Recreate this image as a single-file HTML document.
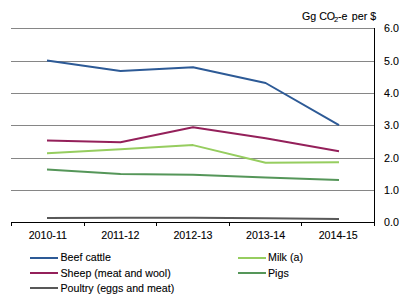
<!DOCTYPE html>
<html><head><meta charset="utf-8"><style>
html,body{margin:0;padding:0;background:#fff;width:411px;height:298px;overflow:hidden}
svg{display:block}
text{font-family:"Liberation Sans",sans-serif;font-size:10.67px;fill:#000;stroke:#000;stroke-width:0.1px}
</style></head><body>
<svg width="411" height="298" viewBox="0 0 411 298">
<rect width="411" height="298" fill="#fff"/>
<rect x="11" y="28" width="363" height="1" fill="#868686"/>
<rect x="11" y="61" width="363" height="1" fill="#868686"/>
<rect x="11" y="93" width="363" height="1" fill="#868686"/>
<rect x="11" y="125" width="363" height="1" fill="#868686"/>
<rect x="11" y="158" width="363" height="1" fill="#868686"/>
<rect x="11" y="190" width="363" height="1" fill="#868686"/>
<polyline points="47.0,217.9 120.5,217.8 193.0,217.8 265.6,218.2 339.0,218.9" fill="none" stroke="#585858" stroke-width="2.0" stroke-linejoin="round" stroke-linecap="butt"/>
<polyline points="47.0,169.4 120.5,174.0 193.0,174.7 265.6,177.4 339.0,180.0" fill="none" stroke="#559659" stroke-width="2.0" stroke-linejoin="round" stroke-linecap="butt"/>
<polyline points="47.0,153.3 120.5,149.2 193.0,145.1 265.6,162.8 339.0,162.2" fill="none" stroke="#96cd5f" stroke-width="2.0" stroke-linejoin="round" stroke-linecap="butt"/>
<polyline points="47.0,140.4 120.5,142.2 193.0,127.2 265.6,138.2 339.0,151.2" fill="none" stroke="#94205a" stroke-width="2.0" stroke-linejoin="round" stroke-linecap="butt"/>
<polyline points="47.0,60.4 120.5,70.9 193.0,67.3 265.6,83.0 339.0,125.2" fill="none" stroke="#2d5a96" stroke-width="2.0" stroke-linejoin="round" stroke-linecap="butt"/>
<rect x="11" y="222" width="364" height="1" fill="#000"/>
<rect x="374" y="28" width="1" height="198" fill="#000"/>
<rect x="11" y="222" width="1" height="4" fill="#000"/>
<rect x="84" y="222" width="1" height="4" fill="#000"/>
<rect x="156" y="222" width="1" height="4" fill="#000"/>
<rect x="229" y="222" width="1" height="4" fill="#000"/>
<rect x="301" y="222" width="1" height="4" fill="#000"/>
<text x="384" y="32">6.0</text>
<text x="384" y="65">5.0</text>
<text x="384" y="97">4.0</text>
<text x="384" y="129">3.0</text>
<text x="384" y="162">2.0</text>
<text x="384" y="194">1.0</text>
<text x="384" y="226">0.0</text>
<text x="47.8" y="239" text-anchor="middle">2010-11</text>
<text x="120.4" y="239" text-anchor="middle">2011-12</text>
<text x="193.0" y="239" text-anchor="middle">2012-13</text>
<text x="265.6" y="239" text-anchor="middle">2013-14</text>
<text x="338.2" y="239" text-anchor="middle">2014-15</text>
<text x="302" y="19.5">Gg CO</text>
<text x="334.1" y="21.5" style="font-size:7.5px">2</text>
<text x="338" y="19.5">-e</text>
<text x="351.8" y="19.5">per $</text>
<rect x="30" y="257" width="28" height="2" fill="#2d5a96"/>
<text x="60.5" y="261">Beef cattle</text>
<rect x="30" y="272" width="28" height="2" fill="#94205a"/>
<text x="60.5" y="277">Sheep (meat and wool)</text>
<rect x="30" y="287" width="28" height="2" fill="#585858"/>
<text x="60.5" y="292">Poultry (eggs and meat)</text>
<rect x="238" y="257" width="28" height="2" fill="#96cd5f"/>
<text x="268" y="261">Milk (a)</text>
<rect x="238" y="272" width="28" height="2" fill="#559659"/>
<text x="268" y="277">Pigs</text>
</svg>
</body></html>
